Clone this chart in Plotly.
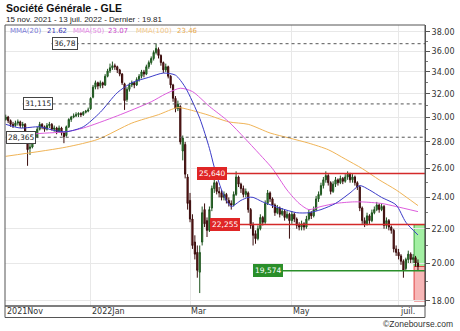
import math
import pandas as pd
import plotly.graph_objects as go

# ---------------- data ----------------
dates = [d for d in pd.bdate_range("2021-11-15", "2022-07-13")
         if d.strftime("%Y-%m-%d") not in ("2022-04-15", "2022-04-18")]

opens = [29.8, 30.0, 29.7, 29.4, 29.3, 29.5, 29.6, 29.3, 29.4, 28.3,
         27.5, 27.6, 28.2, 28.4, 29.0, 29.4, 29.2, 29.0, 29.3, 29.4,
         29.0, 29.1, 28.8, 29.1, 28.7, 28.5, 29.2, 29.8, 30.0, 30.1,
         30.2, 30.3, 30.2, 30.4, 30.5, 30.7, 31.7, 32.6, 33.0, 32.7,
         33.0, 32.8, 33.6, 34.1, 34.4, 34.6, 34.5, 34.2, 33.8, 32.9,
         31.5, 32.4, 32.8, 33.0, 32.8, 33.3, 33.6, 34.0, 33.8, 34.5,
         34.9, 35.3, 35.9, 36.2, 35.6, 34.9, 34.2, 34.5, 33.6, 32.8,
         31.6, 30.7, 30.9, 27.3, 27.8, 25.4, 23.8, 22.6, 21.2, 20.6,
         19.5, 21.2, 23.2, 22.5, 21.9, 23.3, 24.6, 25.0, 24.4, 24.3,
         24.0, 24.2, 23.8, 23.6, 23.5, 24.2, 25.4, 24.9, 24.6, 24.2,
         24.3, 23.2, 22.2, 21.7, 21.4, 22.0, 22.7, 22.4, 23.6, 24.3,
         23.9, 23.5, 23.0, 23.3, 22.9, 23.1, 22.7, 22.9, 22.5, 22.9,
         22.6, 22.2, 22.1, 22.3, 22.1, 22.6, 23.0, 22.8, 23.2, 23.9,
         24.2, 24.8, 25.2, 25.5, 25.0, 24.4, 24.9, 25.2, 25.0, 25.3,
         25.1, 25.4, 25.6, 25.2, 25.4, 25.0, 24.7, 23.3, 22.5, 22.3,
         22.8, 22.5, 23.0, 23.2, 23.5, 23.2, 23.4, 22.2, 22.5, 22.1,
         21.9, 20.8, 20.6, 20.4, 20.1, 19.7, 20.2, 20.5, 20.2, 20.3,
         20.0]
highs = [30.2, 30.1, 29.8, 29.6, 29.7, 29.8, 29.7, 29.6, 29.5, 28.4,
         28.0, 28.4, 28.6, 29.2, 29.6, 29.5, 29.3, 29.5, 29.6, 29.5,
         29.3, 29.2, 29.3, 29.2, 28.8, 29.3, 29.9, 30.1, 30.3, 30.4,
         30.4, 30.4, 30.5, 30.6, 30.8, 31.7, 32.8, 33.2, 33.1, 33.2,
         33.1, 33.8, 34.3, 34.8, 35.0, 34.8, 34.6, 34.3, 33.9, 33.0,
         32.6, 33.0, 33.2, 33.1, 33.5, 33.8, 34.2, 34.2, 34.7, 35.1,
         35.5, 36.1, 36.78, 36.4, 35.7, 35.0, 34.8, 34.6, 33.7, 32.9,
         31.8, 31.4, 31.0, 28.5, 28.0, 25.6, 24.3, 22.9, 21.6, 21.0,
         21.0, 23.4, 23.6, 22.7, 23.4, 24.8, 25.2, 25.1, 24.7, 24.5,
         24.4, 24.3, 24.0, 23.8, 24.4, 25.8, 25.5, 25.0, 24.8, 24.6,
         24.4, 23.3, 22.4, 21.9, 22.2, 22.9, 22.8, 23.8, 24.5, 24.4,
         24.0, 23.6, 23.5, 23.4, 23.3, 23.2, 23.1, 23.0, 23.1, 23.0,
         22.7, 22.4, 22.5, 22.4, 22.8, 23.2, 23.1, 23.4, 24.1, 24.4,
         25.0, 25.4, 25.8, 25.6, 25.1, 25.1, 25.4, 25.3, 25.5, 25.4,
         25.6, 25.8, 25.7, 25.6, 25.5, 25.1, 24.8, 23.4, 22.7, 23.0,
         22.9, 23.2, 23.4, 23.7, 23.6, 23.6, 23.5, 22.7, 22.6, 22.2,
         22.0, 21.0, 20.8, 20.5, 20.2, 20.3, 20.7, 20.6, 20.5, 20.4,
         20.2]
lows = [29.7, 29.5, 29.2, 29.1, 29.2, 29.3, 29.1, 29.1, 28.6, 26.2,
        27.0, 27.5, 28.0, 28.3, 28.9, 29.0, 28.8, 28.9, 29.1, 28.9,
        28.8, 28.6, 28.7, 28.5, 27.9, 28.4, 29.1, 29.6, 29.9, 30.0,
        30.0, 30.0, 30.1, 30.3, 30.4, 30.6, 31.6, 32.4, 32.4, 32.5,
        32.5, 32.7, 33.5, 33.9, 34.2, 34.2, 33.9, 33.6, 32.8, 30.6,
        31.3, 32.2, 32.6, 32.5, 32.7, 33.1, 33.4, 33.5, 33.7, 34.3,
        34.7, 35.1, 35.7, 35.3, 34.6, 33.9, 34.0, 33.4, 32.5, 31.3,
        30.4, 30.5, 27.8, 26.6, 25.3, 23.2, 22.4, 20.8, 20.2, 19.2,
        18.4, 21.0, 22.1, 21.5, 21.8, 23.1, 24.3, 24.2, 24.0, 23.8,
        23.8, 23.6, 23.4, 23.2, 23.4, 24.1, 24.7, 24.3, 24.0, 24.0,
        23.0, 22.0, 21.0, 21.1, 21.3, 21.9, 22.2, 22.3, 23.5, 23.7,
        23.3, 22.8, 22.9, 22.7, 22.8, 22.5, 22.6, 21.4, 22.3, 22.4,
        22.0, 21.9, 21.9, 21.9, 22.0, 22.5, 22.6, 22.7, 23.1, 23.7,
        24.1, 24.6, 25.0, 24.8, 24.2, 24.3, 24.7, 24.8, 24.9, 24.9,
        25.0, 25.2, 25.0, 25.0, 24.8, 24.5, 23.1, 22.3, 22.1, 22.2,
        22.3, 22.4, 22.9, 23.1, 23.0, 23.1, 22.0, 22.0, 21.9, 21.7,
        20.6, 20.4, 20.2, 19.9, 19.2, 19.6, 20.0, 20.0, 20.0, 19.8,
        19.6]
closes = [30.0, 29.7, 29.4, 29.3, 29.5, 29.6, 29.3, 29.4, 28.7, 27.4,
          27.6, 28.2, 28.4, 29.0, 29.4, 29.2, 29.0, 29.3, 29.4, 29.0,
          29.1, 28.8, 29.1, 28.7, 28.4, 29.2, 29.8, 30.0, 30.1, 30.2,
          30.3, 30.2, 30.4, 30.5, 30.6, 31.6, 32.6, 33.0, 32.7, 33.0,
          32.8, 33.6, 34.1, 34.4, 34.6, 34.5, 34.2, 33.8, 33.0, 31.4,
          32.4, 32.8, 33.0, 32.8, 33.3, 33.6, 34.0, 33.8, 34.5, 34.9,
          35.3, 35.9, 36.3, 35.6, 34.9, 34.2, 34.5, 33.6, 32.8, 31.6,
          30.7, 31.1, 28.0, 28.3, 25.6, 23.6, 22.6, 21.0, 20.5, 19.6,
          20.6, 23.0, 22.3, 21.9, 23.2, 24.6, 25.0, 24.4, 24.3, 24.0,
          24.2, 23.8, 23.6, 23.5, 24.2, 25.4, 24.9, 24.6, 24.2, 24.4,
          23.2, 22.2, 21.6, 21.4, 22.0, 22.7, 22.4, 23.6, 24.3, 23.9,
          23.5, 23.0, 23.3, 22.9, 23.1, 22.7, 22.9, 22.5, 22.9, 22.6,
          22.2, 22.1, 22.3, 22.1, 22.6, 23.0, 22.8, 23.2, 23.9, 24.2,
          24.8, 25.2, 25.5, 25.0, 24.4, 24.9, 25.2, 25.0, 25.3, 25.1,
          25.4, 25.6, 25.2, 25.4, 25.0, 24.7, 23.3, 22.5, 22.3, 22.8,
          22.5, 23.0, 23.2, 23.5, 23.2, 23.4, 22.2, 22.5, 22.1, 21.9,
          20.8, 20.6, 20.4, 20.1, 19.6, 20.2, 20.5, 20.2, 20.3, 20.0,
          19.81]

# moving averages (trading-day index, value)
ma20_idx = [0, 6, 14, 20, 25, 32, 39, 46, 52, 59, 65, 70, 74, 80, 84, 86, 89, 91, 93,
            97, 100, 102, 106, 113, 120, 125, 130, 136, 142, 146, 150, 155, 161, 165, 170]
ma20_val = [29.4, 29.1, 29.2, 28.9, 28.8, 29.2, 30.4, 32.1, 33.0, 33.5, 33.9, 33.7, 32.6,
            29.9, 27.5, 26.1, 24.5, 23.8, 23.4, 23.8, 24.0, 24.0, 23.7, 23.3, 23.0, 23.0,
            23.2, 23.6, 24.3, 24.8, 24.5, 24.0, 23.5, 22.4, 21.62]
ma50_idx = [0, 11, 25, 32, 46, 60, 66, 72, 77, 84, 92, 106, 110, 116, 121, 125, 130,
            136, 143, 147, 155, 161, 170]
ma50_val = [28.0, 28.6, 28.8, 29.1, 30.1, 31.3, 32.0, 32.5, 32.2, 30.9, 29.6, 26.8, 26.0,
            24.5, 23.6, 23.2, 23.4, 23.6, 23.7, 23.7, 23.6, 23.4, 23.07]
ma100_idx = [0, 25, 38, 52, 63, 71, 76, 83, 92, 100, 109, 117, 125, 133, 140, 147, 154,
             161, 170]
ma100_val = [26.9, 27.6, 28.2, 29.5, 30.2, 30.8, 30.6, 30.2, 29.6, 29.4, 28.7, 28.3, 27.9,
             27.4, 26.7, 26.0, 25.2, 24.5, 23.46]

levels_dash = [36.78, 31.115, 28.365]
levels_dash_lbl = ["36,78", "31,115", "28,365"]
levels_red = [25.640, 22.255]
levels_red_lbl = ["25,640", "22,255"]
level_green = 19.574
level_green_lbl = "19,574"
target_high = 22.25
target_low = 18.0
last_close = 19.81

y_ticks = [18, 20, 22, 24, 26, 28, 30, 32, 34, 36, 38]
y_minor = [19, 21, 23, 25, 27, 29, 31, 33, 35, 37]
month_labels = ["2021Nov", "2022Jan", "Mar", "May", "juil."]

# ---------------- figure ----------------
FONT = "DejaVu Sans"
W, H = 460, 331
ML, MR, MT, MB = 5, 35, 25, 25
PW, PH = W - ML - MR, H - MT - MB


def px(xp):
    return (xp - ML) / PW


def py(yp):
    return (H - MB - yp) / PH


xs = list(range(len(dates)))
# first trading day of each labelled month
month_pos = [0]
for i in range(1, len(dates)):
    if dates[i].month != dates[i - 1].month and dates[i].month in (1, 3, 5, 7):
        month_pos.append(i)

fig = go.Figure()

fig.add_trace(go.Candlestick(
    x=xs, open=opens, high=highs, low=lows, close=closes,
    increasing=dict(line=dict(color="#1d521d", width=1), fillcolor="#3a9a3a"),
    decreasing=dict(line=dict(color="#3a0c0c", width=1), fillcolor="#6e1717"),
    whiskerwidth=0, showlegend=False, hoverinfo="skip"))

for xi, yv, col in [(ma100_idx, ma100_val, "#f0b457"),
                    (ma50_idx, ma50_val, "#dd5ddd"),
                    (ma20_idx, ma20_val, "#3b3bc8")]:
    fig.add_trace(go.Scatter(x=xi, y=yv, mode="lines",
                             line=dict(color=col, width=1, shape="spline", smoothing=0.7),
                             showlegend=False, hoverinfo="skip"))

XMIN, XMAX = -0.3, 172.9
shapes = []
annots = []

# target boxes
box_x0 = 168.4
shapes.append(dict(type="rect", xref="x", yref="y", x0=box_x0, x1=XMAX, y0=last_close,
                   y1=target_high, fillcolor="rgba(140,235,140,0.8)",
                   line=dict(color="#3aa83a", width=1), layer="below"))
shapes.append(dict(type="rect", xref="x", yref="y", x0=box_x0, x1=XMAX, y0=target_low,
                   y1=last_close, fillcolor="rgba(245,165,165,0.8)",
                   line=dict(color="#e04040", width=1), layer="below"))

# dashed levels
dash_x = [18.9, 7.0, 0.0]
for lv, lb, x0 in zip(levels_dash, levels_dash_lbl, dash_x):
    shapes.append(dict(type="line", xref="x", yref="y", x0=x0, x1=XMAX, y0=lv, y1=lv,
                       line=dict(color="#555555", width=1, dash="dot")))
    annots.append(dict(x=x0, y=math.log10(lv), xref="x", yref="y", text=lb,
                       showarrow=False, xanchor="left", yanchor="middle",
                       font=dict(family=FONT, size=7.5, color="#222222"),
                       bgcolor="white", bordercolor="#444444", borderwidth=1, borderpad=1))

red_x = [78.9, 84.2]
for lv, lb, x0 in zip(levels_red, levels_red_lbl, red_x):
    shapes.append(dict(type="line", xref="x", yref="y", x0=x0, x1=XMAX, y0=lv, y1=lv,
                       line=dict(color="#d42a2a", width=1.5)))
    annots.append(dict(x=x0, y=math.log10(lv), xref="x", yref="y", text=lb,
                       showarrow=False, xanchor="left", yanchor="middle",
                       font=dict(family=FONT, size=7.5, color="white"),
                       bgcolor="#e02626", bordercolor="#e02626", borderwidth=1, borderpad=1))

gx = 102.0
shapes.append(dict(type="line", xref="x", yref="y", x0=gx, x1=XMAX, y0=level_green,
                   y1=level_green, line=dict(color="#2a8f2a", width=1.5)))
annots.append(dict(x=gx, y=math.log10(level_green), xref="x", yref="y", text=level_green_lbl,
                   showarrow=False, xanchor="left", yanchor="middle",
                   font=dict(family=FONT, size=7.5, color="white"),
                   bgcolor="#2a8f2a", bordercolor="#2a8f2a", borderwidth=1, borderpad=1))

# frame + bottom strip
strip = 11.5 / PH
shapes.append(dict(type="rect", xref="paper", yref="paper", x0=0, x1=1, y0=0, y1=1,
                   line=dict(color="#555555", width=1)))
shapes.append(dict(type="rect", xref="paper", yref="paper", x0=0, x1=1, y0=-strip, y1=0,
                   line=dict(color="#555555", width=1)))

# x labels
for pos, lb in zip(month_pos, month_labels):
    annots.append(dict(x=pos, y=-strip / 2, xref="x", yref="paper", text=lb,
                       showarrow=False, xanchor="left", yanchor="middle", xshift=-1,
                       font=dict(family=FONT, size=8, color="#333333")))

# titles
annots.append(dict(x=px(4), y=py(7.5), xref="paper", yref="paper",
                   text="<b>Société Générale - GLE</b>", showarrow=False,
                   xanchor="left", yanchor="middle",
                   font=dict(family="Liberation Sans", size=10.5, color="#111111")))
annots.append(dict(x=px(4), y=py(19.5), xref="paper", yref="paper",
                   text="15 nov. 2021 - 13 juil. 2022 - Dernier : 19.81", showarrow=False,
                   xanchor="left", yanchor="middle",
                   font=dict(family="Liberation Sans", size=8, color="#222222")))
leg = [("MMA(20)", 9, "#7a7ad8"), ("21.62", 46, "#3a3ab8"),
       ("MMA(50)", 72, "#e589e5"), ("23.07", 107, "#cc44cc"),
       ("MMA(100)", 135, "#f3c88a"), ("23.46", 176, "#eaa84a")]
for t, xp, c in leg:
    annots.append(dict(x=px(xp), y=py(31), xref="paper", yref="paper", text=t,
                       showarrow=False, xanchor="left", yanchor="middle", xshift=-1,
                       font=dict(family=FONT, size=7, color=c)))
annots.append(dict(x=px(455), y=py(324), xref="paper", yref="paper",
                   text="©Zonebourse.com", showarrow=False, xanchor="right",
                   yanchor="middle",
                   font=dict(family="Liberation Sans", size=8.5, color="#333333")))

fig.update_layout(
    width=W, height=H, margin=dict(l=ML, r=MR, t=MT, b=MB),
    paper_bgcolor="white", plot_bgcolor="white",
    shapes=shapes, annotations=annots, hovermode=False,
    xaxis=dict(range=[XMIN, XMAX], tickvals=month_pos, showticklabels=False,
               showgrid=True, gridcolor="#e8e8e8", gridwidth=1, zeroline=False,
               showline=False, ticks="", rangeslider=dict(visible=False), fixedrange=True),
    yaxis=dict(type="log", range=[math.log10(17.75), math.log10(38.74)], side="right",
               tickvals=y_ticks, ticktext=[f"{v:.2f}" for v in y_ticks],
               showgrid=True, gridcolor="#e8e8e8", gridwidth=1, zeroline=False,
               showline=True, linecolor="#555555", linewidth=1,
               ticks="outside", ticklen=4, tickcolor="#555555",
               minor=dict(tickvals=y_minor, ticks="outside", ticklen=2, tickcolor="#777777",
                          showgrid=False),
               tickfont=dict(family=FONT, size=8, color="#333333"), fixedrange=True),
)

fig.write_html("out.html")
